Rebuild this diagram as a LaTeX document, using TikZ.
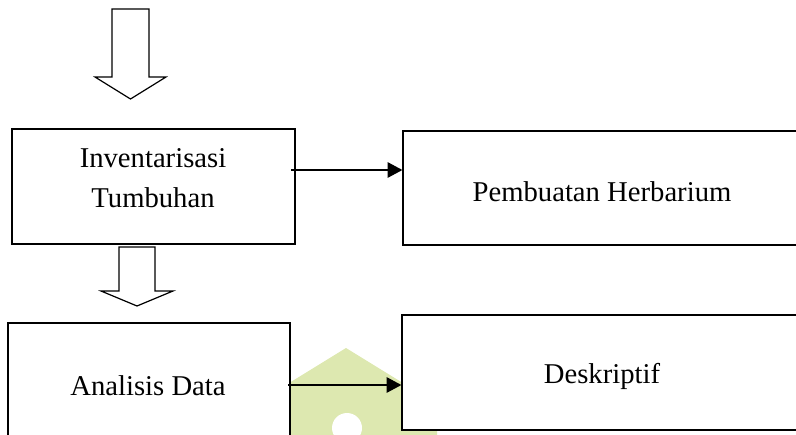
\documentclass[tikz,border=0pt]{standalone}
\usepackage{fontspec}
\setmainfont{Liberation Serif}
\usetikzlibrary{arrows.meta}

\tikzset{every picture/.style={line width=0.75pt}}
\tikzset{
  box/.style={draw, line width=0.9pt, fill=white, inner sep=0pt},
  lbl/.style={font=\fontsize{21.5}{30}\selectfont, align=center, inner sep=0pt},
  arr/.style={line width=1.1pt, -{Triangle[length=11pt,width=11.5pt]}},
  blk/.style={line width=0.9pt, fill=white},
}
\definecolor{logogreen}{RGB}{221,232,176}

\begin{document}
\begin{tikzpicture}[x=0.75pt,y=0.75pt,yscale=-1,xscale=1]
	\useasboundingbox (0,0) rectangle (796,435);

	%Shape: Polygon [watermark]
	\fill[logogreen] (346,348) -- (437,404) -- (437,440) -- (255,440) -- (255,404) -- cycle;
	\fill[white] (347,428) circle (15);

	%Shape: Block Arrow [top]
	\draw[blk] (112,9) -- (149,9) -- (149,77) -- (166,77) -- (130.5,99) -- (95,77) -- (112,77) -- cycle;

	%Shape: Rectangle [inventarisasi]
	\node[box, minimum width=212.25pt, minimum height=86.25pt] (inv) at (153.5,186.5) {};
	\node[lbl] (invtxt) at (153,178) {Inventarisasi\\Tumbuhan};

	%Shape: Rectangle [herbarium]
	\node[box, minimum width=298.5pt, minimum height=85.5pt] (herb) at (602,188) {};
	\node[lbl] (herbtxt) at (602,192) {Pembuatan Herbarium};

	%Shape: Block Arrow [middle]
	\draw[blk] (119,247) -- (155,247) -- (155,291) -- (173,291) -- (137,306) -- (101,291) -- (119,291) -- cycle;

	%Shape: Rectangle [analisis]
	\node[box, minimum width=211.5pt, minimum height=93pt] (ana) at (149,385) {};
	\node[lbl] (anatxt) at (148,386) {Analisis Data};

	%Shape: Rectangle [deskriptif]
	\node[box, minimum width=299.25pt, minimum height=86.25pt] (desk) at (601.5,372.5) {};
	\node[lbl] (desktxt) at (602,376) {Deskriptif};

	%Straight Lines [arrows]
	\coordinate (a1) at (291,170);
	\coordinate (a2) at (288,385);
	\draw[arr] (a1) -- (a1 -| herb.west);
	\draw[arr] (a2) -- (a2 -| desk.west);

\end{tikzpicture}
\end{document}
